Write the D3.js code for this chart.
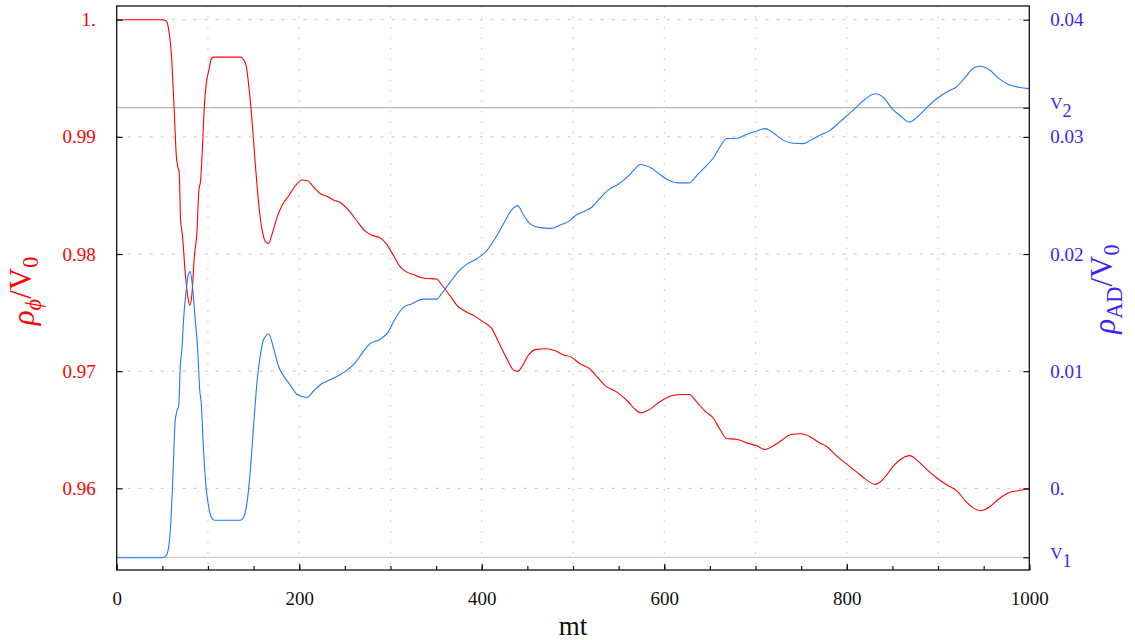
<!DOCTYPE html>
<html>
<head>
<meta charset="utf-8">
<script src="https://cdn.jsdelivr.net/npm/d3@7"></script>
<style>
  html, body { margin: 0; padding: 0; background: #fff; }
  svg { display: block; }
  text { font-family: "Liberation Serif", "Times New Roman", serif; }
</style>
</head>
<body>
<svg id="chart" width="1135" height="640"></svg>
<script>
// ---------------- data ----------------
const mtPhi = [0,50,54,57,60,63,65.5,67,68.5,70,72,75,78,80,82.5,85,88,90,92,94,96,98,101,104,107,136,139,142,145,148,152,156,160,163,166.5,170,176,181,188,196,203,209,216,223,231,238,245,255,262.7,271.8,279,290,295.6,303,310,315.7,325,337.7,350.5,356,365,374,383.4,392.6,401.7,410.9,418,427,434.7,439.4,443.8,451,460,471,480,489.5,498,507.6,518.4,525.7,534.9,547.7,560.5,567.8,574,584.3,595.2,606.2,617.2,627.4,635.5,644.6,653.8,661,668.4,679.4,690.4,701.4,710.5,719.6,728.8,738,749,759.9,768.9,778,789,800,811,820,831.1,840.2,851.2,860.4,868.8,878.7,887.8,898.8,909.8,920.7,929.9,939,946.4,955.5,966.5,977.5,988.5,1000];
const rhoPhi = [1.0,1.0,0.99991,0.99915,0.99696,0.99227,0.98820,0.98742,0.98696,0.98288,0.98163,0.97850,0.97631,0.97562,0.97662,0.97975,0.98194,0.98538,0.98632,0.98914,0.99258,0.99446,0.99570,0.99671,0.99681,0.99681,0.99659,0.99603,0.99415,0.99164,0.98757,0.98397,0.98178,0.98106,0.98091,0.98163,0.98319,0.98413,0.98491,0.98585,0.98632,0.98626,0.98570,0.98516,0.98491,0.98460,0.98440,0.98366,0.98288,0.98200,0.98163,0.98131,0.98085,0.97991,0.97897,0.97856,0.97825,0.97793,0.97787,0.97740,0.97646,0.97552,0.97505,0.97468,0.97421,0.97365,0.97255,0.97114,0.97011,0.96998,0.97036,0.97136,0.97186,0.97192,0.97177,0.97139,0.97120,0.97064,0.97020,0.96958,0.96879,0.96823,0.96739,0.96676,0.96645,0.96676,0.96739,0.96786,0.96801,0.96801,0.96739,0.96660,0.96598,0.96504,0.96426,0.96419,0.96388,0.96363,0.96332,0.96363,0.96410,0.96457,0.96466,0.96441,0.96394,0.96357,0.96275,0.96207,0.96138,0.96081,0.96034,0.96081,0.96191,0.96254,0.96279,0.96228,0.96160,0.96088,0.96028,0.95978,0.95894,0.95831,0.95809,0.95837,0.95909,0.95962,0.95981,0.95994];

const mtAD = [0,50,54,57,59.4,61.6,64,66,68,69.6,71.5,73.3,76.2,78.8,80.6,83,86,88.7,90.9,92.7,95.2,98,100.7,103.7,107,135.5,139,142.8,146.5,150,153.8,156.7,161,166.6,172,177.6,183,190.4,197.7,208.7,216,225,234,244.5,251.7,260.8,268.2,277.3,288.3,297.4,304.8,313.9,323,335.9,350.5,356,365,374.3,383.4,394.4,405.4,414.5,423.7,432.8,439.4,445.6,452.9,464,474.9,485.9,496.6,503.8,512.9,520.2,529.4,538.5,549.5,560.5,567.8,573.3,586.1,595.2,604.4,615.4,627.4,635.5,644.6,653.8,661,668.4,679.4,690.4,699.5,710.5,719.6,730.6,741.6,752.6,759.9,770.7,781.7,790.9,800,809.1,820,831.1,840.2,849.4,858.5,868.8,878.7,887.8,898.8,909.8,920.7,929.9,939,946.4,955.5,966.5,977.5,988.5,1000];
const rhoAD = [-0.00592,-0.00592,-0.00576,-0.00498,-0.00279,0.00097,0.00567,0.00660,0.00707,0.01036,0.01192,0.01443,0.01693,0.01834,0.01850,0.01725,0.01443,0.01192,0.00848,0.00723,0.00316,0.00003,-0.00153,-0.00247,-0.00272,-0.00272,-0.00247,-0.00122,0.00160,0.00535,0.00911,0.01099,0.01271,0.01318,0.01192,0.01036,0.00958,0.00879,0.00801,0.00776,0.00833,0.00895,0.00926,0.00970,0.01005,0.01067,0.01146,0.01233,0.01271,0.01333,0.01443,0.01543,0.01574,0.01615,0.01615,0.01662,0.01756,0.01850,0.01912,0.01959,0.02028,0.02131,0.02257,0.02376,0.02413,0.02335,0.02257,0.02225,0.02219,0.02247,0.02285,0.02335,0.02366,0.02397,0.02476,0.02545,0.02595,0.02664,0.02726,0.02764,0.02732,0.02679,0.02632,0.02607,0.02607,0.02670,0.02742,0.02820,0.02914,0.02986,0.02986,0.03023,0.03045,0.03070,0.03033,0.02970,0.02945,0.02942,0.02970,0.03014,0.03055,0.03117,0.03180,0.03243,0.03321,0.03368,0.03336,0.03243,0.03180,0.03127,0.03180,0.03252,0.03327,0.03383,0.03430,0.03509,0.03587,0.03603,0.03577,0.03499,0.03446,0.03424,0.03412];

const xTicksMajor = [0,200,400,600,800,1000];
const xTickLabels = ["0","200","400","600","800","1000"];
const xTicksMinor = [0,50,100,150,200,250,300,350,400,450,500,550,600,650,700,750,800,850,900,950,1000];
const xGrid = [100,200,300,400,500,600,700,800,900];
const leftTicks = [0.96,0.97,0.98,0.99,1.0];
const leftTickLabels = ["0.96","0.97","0.98","0.99","1."];
const rightTicks = [0,0.01,0.02,0.03,0.04];
const rightTickLabels = ["0.","0.01","0.02","0.03","0.04"];
const levelValues = [-0.00589, 0.03249];   // V1, V2
const levelNames = [["V","1"],["V","2"]];
const xDomain = [0,1000];
const leftDomain = [0.95303,1.00117];
const rightDomain = [-0.00697,0.04117];

// ---------------- layout ----------------
const L = 116.7, R = 1029.3, T = 6, B = 570;
const RED = "#ff0000", BLUE = "#2277ff", RTXT = "#3a22ff";

const svg = d3.select("#chart");
const x = d3.scaleLinear(xDomain, [L, R]);
const yL = d3.scaleLinear(leftDomain, [B, T]);
const yR = d3.scaleLinear(rightDomain, [B, T]);

// grid
const grid = svg.append("g");
grid.selectAll("line.h").data(leftTicks).join("line")
  .attr("x1", L).attr("x2", R).attr("y1", d => yL(d)).attr("y2", d => yL(d))
  .attr("stroke", "#c4c4c4").attr("stroke-width", 1).attr("stroke-dasharray", "3,8");
grid.selectAll("line.v").data(xGrid).join("line")
  .attr("x1", d => x(d)).attr("x2", d => x(d)).attr("y1", T).attr("y2", B)
  .attr("stroke", "#c4c4c4").attr("stroke-width", 1).attr("stroke-dasharray", "1.5,9");

// V1 / V2 reference lines
svg.selectAll("line.lev").data(levelValues).join("line")
  .attr("x1", L).attr("x2", R).attr("y1", d => yR(d)).attr("y2", d => yR(d))
  .attr("stroke", (d,i) => i === 1 ? "#b4b4b4" : "#cccccc").attr("stroke-width", 1.2);

// curves
const linePhi = d3.line().x((d,i) => x(mtPhi[i])).y(d => yL(d)).curve(d3.curveMonotoneX);
const lineAD = d3.line().x((d,i) => x(mtAD[i])).y(d => yR(d)).curve(d3.curveMonotoneX);
svg.append("path").datum(rhoPhi).attr("d", linePhi)
  .attr("fill", "none").attr("stroke", RED).attr("stroke-width", 1.1);
svg.append("path").datum(rhoAD).attr("d", lineAD)
  .attr("fill", "none").attr("stroke", BLUE).attr("stroke-width", 1.1);

// frame
svg.append("rect").attr("x", L).attr("y", T).attr("width", R - L).attr("height", B - T)
  .attr("fill", "none").attr("stroke", "#111").attr("stroke-width", 1.3);

function styleAxis(g, color, size) {
  g.select(".domain").remove();
  g.selectAll(".tick line").attr("stroke", "#111").attr("stroke-width", 1.2);
  g.selectAll(".tick text").attr("fill", color).attr("font-size", size)
    .attr("font-family", '"Liberation Serif", "Times New Roman", serif');
}

// bottom axis
const bMinor = svg.append("g").attr("transform", `translate(0,${B})`)
  .call(d3.axisBottom(x).tickValues(xTicksMinor).tickSize(-4).tickFormat(""));
styleAxis(bMinor, "#111", 18);
const bMajor = svg.append("g").attr("transform", `translate(0,${B})`)
  .call(d3.axisBottom(x).tickValues(xTicksMajor).tickSize(-6).tickPadding(22)
    .tickFormat((d,i) => xTickLabels[i]));
styleAxis(bMajor, "#111", 19);

// left axis
const lAx = svg.append("g").attr("transform", `translate(${L},0)`)
  .call(d3.axisLeft(yL).tickValues(leftTicks).tickSize(-6).tickPadding(21)
    .tickFormat((d,i) => leftTickLabels[i]));
styleAxis(lAx, RED, 19);

// right axis
const rAx = svg.append("g").attr("transform", `translate(${R},0)`)
  .call(d3.axisRight(yR).tickValues(rightTicks).tickSize(-6).tickPadding(21)
    .tickFormat((d,i) => rightTickLabels[i]));
styleAxis(rAx, RTXT, 19);
const rLev = svg.append("g").attr("transform", `translate(${R},0)`)
  .call(d3.axisRight(yR).tickValues(levelValues).tickSize(-6).tickFormat(""));
styleAxis(rLev, RTXT, 19);
rLev.selectAll(".tick").each(function(d, i) {
  const t = d3.select(this).append("text")
    .attr("x", 21).attr("y", 0).attr("dy", "0.1em")
    .attr("fill", RTXT).attr("text-anchor", "start")
    .attr("font-family", '"Liberation Serif", "Times New Roman", serif');
  t.append("tspan").attr("font-size", 17).text(levelNames[i][0]);
  t.append("tspan").attr("font-size", 18).attr("dy", "0.45em").text(levelNames[i][1]);
});

// axis titles
function richLabel(tx, ty, color, parts, size) {
  const t = svg.append("text")
    .attr("transform", `translate(${tx},${ty}) rotate(-90)`)
    .attr("text-anchor", "middle").attr("fill", color).attr("font-size", size);
  let sub = false;
  parts.forEach(p => {
    const s = t.append("tspan").text(p.t);
    if (p.it) s.attr("font-style", "italic");
    if (p.sub && !sub) { s.attr("dy", "0.3em").attr("font-size", size * 0.72); sub = true; }
    else if (p.sub && sub) { s.attr("font-size", size * 0.72); }
    else if (!p.sub && sub) { s.attr("dy", "-0.3em"); sub = false; }
  });
  return t;
}
richLabel(34, 291, RED, [
  {t: "ρ", it: true}, {t: "ϕ", it: true, sub: true}, {t: "/V"}, {t: "0", sub: true}
], 31);
richLabel(1115, 289, "#3a22ff", [
  {t: "ρ", it: true}, {t: "AD", sub: true}, {t: "/V"}, {t: "0", sub: true}
], 31);

svg.append("text").attr("x", (L + R) / 2).attr("y", 635)
  .attr("text-anchor", "middle").attr("fill", "#111").attr("font-size", 27).text("mt");
</script>
</body>
</html>
